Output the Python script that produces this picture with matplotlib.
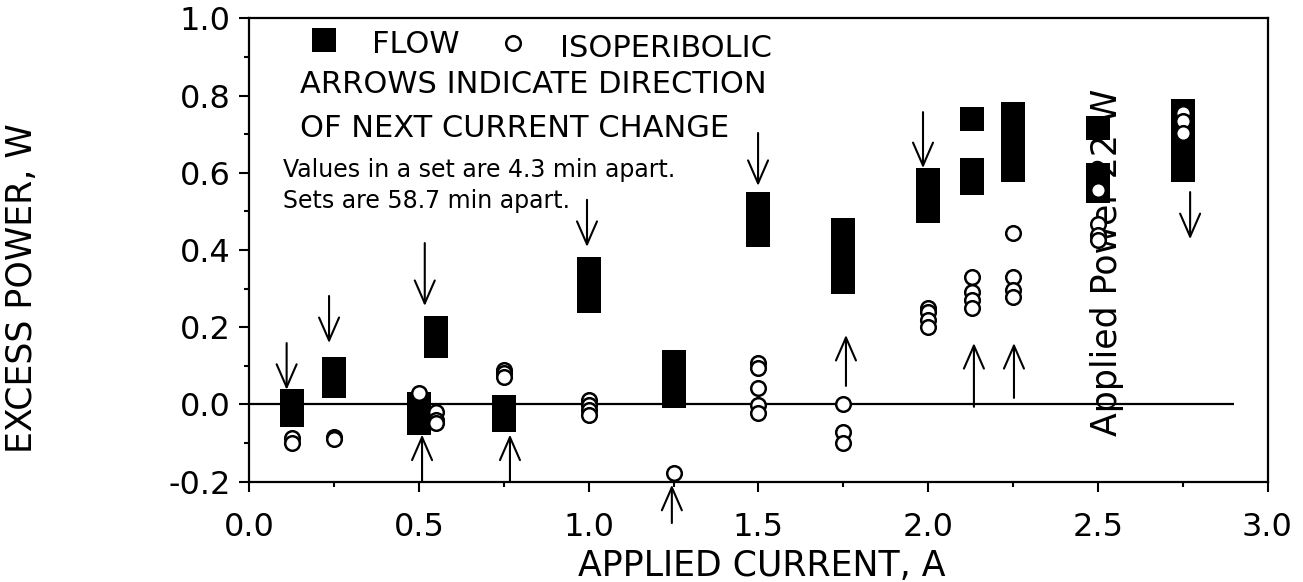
import matplotlib
matplotlib.use("Agg")
import matplotlib.pyplot as plt
from matplotlib.ticker import MultipleLocator, FormatStrFormatter
from matplotlib.patches import FancyArrowPatch

# ---- data -------------------------------------------------------------
# Flow calorimetry: applied current (A) of each set and excess power (W) of its values
flow_current = [0.125, 0.25, 0.5, 0.55, 0.75, 1.0, 1.25, 1.5, 1.75, 2.0, 2.13, 2.25, 2.5, 2.75]
flow_power = [
    [0.008, -0.004, -0.016, -0.028],
    [0.091, 0.075, 0.060, 0.047],
    [0.000, -0.015, -0.032, -0.049],
    [0.198, 0.180, 0.165, 0.151],
    [-0.006, -0.018, -0.030, -0.040],
    [0.352, 0.325, 0.300, 0.269],
    [0.111, 0.090, 0.065, 0.040, 0.021],
    [0.518, 0.495, 0.465, 0.440],
    [0.451, 0.420, 0.390, 0.355, 0.318],
    [0.580, 0.555, 0.530, 0.502],
    [0.739, 0.607, 0.590, 0.573],
    [0.752, 0.720, 0.690, 0.660, 0.635, 0.607],
    [0.717, 0.594, 0.575, 0.553],
    [0.761, 0.730, 0.700, 0.670, 0.640, 0.607],
]

# Isoperibolic calorimetry
iso_current = [0.125, 0.25, 0.5, 0.55, 0.75, 1.0, 1.25, 1.5, 1.75, 2.0, 2.13, 2.25, 2.5, 2.75]
iso_power = [
    [-0.088, -0.100],
    [-0.084, -0.090],
    [0.030],
    [-0.020, -0.040, -0.048],
    [0.089, 0.082, 0.071],
    [0.012, -0.001, -0.014, -0.027],
    [-0.177],
    [0.107, 0.094, 0.043, -0.001, -0.022],
    [0.001, -0.071, -0.100],
    [0.250, 0.240, 0.220, 0.200],
    [0.330, 0.290, 0.270, 0.250],
    [0.444, 0.330, 0.296, 0.278],
    [0.556, 0.468, 0.440, 0.425],
    [0.755, 0.735, 0.703],
]

# Direction of the next current change: (current, tail, tip)
down_arrows = [
    (0.110, 0.159, 0.038),
    (0.235, 0.281, 0.159),
    (0.517, 0.418, 0.255),
    (0.995, 0.530, 0.408),
    (1.499, 0.703, 0.566),
    (1.985, 0.757, 0.612),
    (2.772, 0.550, 0.428),
]
up_arrows = [
    (0.509, -0.200, -0.078),
    (0.768, -0.200, -0.078),
    (1.245, -0.307, -0.208),
    (1.758, 0.048, 0.180),
    (2.135, -0.006, 0.159),
    (2.253, 0.017, 0.159),
]

x_ticks = [0.0, 0.5, 1.0, 1.5, 2.0, 2.5, 3.0]
y_ticks = [-0.2, 0.0, 0.2, 0.4, 0.6, 0.8, 1.0]
zero_line_end = 2.9

# ---- figure -----------------------------------------------------------
W, H = 1303, 582
fig = plt.figure(figsize=(W / 100, H / 100), dpi=100)
ax_l, ax_r, ax_t, ax_b = 249.3, 1267.5, 18.3, 481.7
ax = fig.add_axes([ax_l / W, 1 - ax_b / H, (ax_r - ax_l) / W, (ax_b - ax_t) / H])


def fpos(x, y):
    """Pixel position (from top-left) to figure fraction."""
    return x / W, 1 - y / H


FS = 22
plt.rcParams["font.family"] = ["DejaVu Sans"]

ax.set_xlim(0.0, 3.0)
ax.set_ylim(-0.2, 1.0)

for s in ax.spines.values():
    s.set_linewidth(1.6)

ax.set_xticks(x_ticks)
ax.set_yticks(y_ticks)
ax.xaxis.set_minor_locator(MultipleLocator(0.25))
ax.yaxis.set_minor_locator(MultipleLocator(0.1))
ax.xaxis.set_major_formatter(FormatStrFormatter("%.1f"))
ax.yaxis.set_major_formatter(FormatStrFormatter("%.1f"))
ax.tick_params(which="both", direction="out", width=1.5, top=False, right=False)
ax.tick_params(axis="x", which="major", length=7.5, pad=14, labelsize=23)
ax.tick_params(axis="y", which="major", length=7.5, pad=6, labelsize=23)
ax.tick_params(which="minor", length=3.8)

# zero reference line
ax.hlines(0.0, 0.0, zero_line_end, color="black", lw=1.6, zorder=1)

# flow points (filled squares)
for x, ys in zip(flow_current, flow_power):
    ax.plot([x] * len(ys), ys, ls="none", marker="s", ms=17, mfc="black",
            mec="none", mew=0, zorder=3)

# isoperibolic points (open circles)
for x, ys in zip(iso_current, iso_power):
    ax.plot([x] * len(ys), ys, ls="none", marker="o", ms=10.5, mfc="white",
            mec="black", mew=1.8, zorder=4, clip_on=False)

# arrows
style = "->,head_length=1.65,head_width=0.72"
for x, y0, y1 in down_arrows + up_arrows:
    arr = FancyArrowPatch((x, y0), (x, y1), arrowstyle=style, mutation_scale=10,
                          lw=1.5, color="black", shrinkA=0, shrinkB=0,
                          zorder=5, clip_on=False)
    ax.add_patch(arr)

# vertical note
ax.text(2.527, 0.369, "Applied Power 22 W", rotation=90, ha="center", va="center",
        fontsize=25, zorder=2)

# axis labels
fig.text(*fpos(762, 566), "APPLIED CURRENT, A", ha="center", va="center", fontsize=25)
fig.text(*fpos(22, 288), "EXCESS POWER, W", ha="center", va="center",
         rotation=90, fontsize=25)

# legend and notes
fig.add_artist(plt.Line2D([324 / W], [1 - 40 / H], ls="none", marker="s", ms=17,
                          mfc="black", mec="none", mew=0, transform=fig.transFigure))
fig.add_artist(plt.Line2D([513 / W], [1 - 43.3 / H], ls="none", marker="o", ms=10.5,
                          mfc="white", mec="black", mew=1.8, transform=fig.transFigure))
fig.text(*fpos(372, 53.3), "FLOW", fontsize=FS, va="baseline")
fig.text(*fpos(560, 56.7), "ISOPERIBOLIC", fontsize=FS, va="baseline")
fig.text(*fpos(300, 93.3), "ARROWS INDICATE DIRECTION", fontsize=FS, va="baseline")
fig.text(*fpos(300, 136.7), "OF NEXT CURRENT CHANGE", fontsize=FS, va="baseline")
fig.text(*fpos(283, 176.7), "Values in a set are 4.3 min apart.", fontsize=17, va="baseline")
fig.text(*fpos(283, 208.3), "Sets are 58.7 min apart.", fontsize=17, va="baseline")

fig.savefig("out.png", dpi=100)
